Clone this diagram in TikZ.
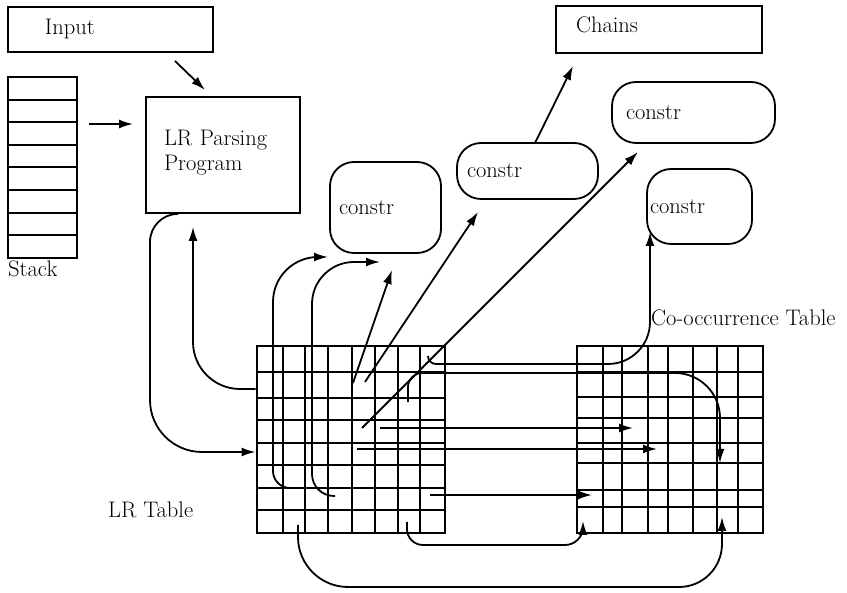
\documentclass[tikz,border=0pt]{standalone}
\usetikzlibrary{arrows.meta}

\begin{document}
\begin{tikzpicture}[x=1pt,y=-1pt,
  every node/.style={font=\fontsize{22.5}{25}\selectfont},
  box/.style={draw, line width=1.8pt, align=left},
  constr/.style={draw, line width=1.8pt, rounded corners=24pt, align=left},
  tab/.style={draw, line width=2pt, minimum width=188pt, minimum height=187pt, inner sep=0pt},
  arr/.style={line width=1.8pt, -{Latex[length=14pt,width=9pt]}},
  ln/.style={line width=2pt}]
\useasboundingbox (0,0) rectangle (847,593);

%boxes
\node[box, text width=131pt, inner xsep=37pt, minimum height=45pt] (inp) at (110.5,29.5) {Input};
\node[box, text width=166pt, inner xsep=20pt, text height=15.7pt, text depth=9pt, minimum height=47pt] (chn) at (659,29.5) {Chains};
\node[box, text width=118pt, inner xsep=18pt, minimum height=116pt] (prog) at (223,155) {LR Parsing\\Program\\[-16pt]\mbox{}};

%stack
\node[draw, ln, minimum width=69pt, minimum height=181pt, inner sep=0pt] (stack) at (42.5,167.5) {};
\foreach \i in {1,...,7} \draw[ln] (8,77+22.6*\i) -- (77,77+22.6*\i);
\node[anchor=north west, inner sep=0pt] (stk) at (8,261) {Stack};

%constr nodes
\node[constr, text width=93pt, inner xsep=9pt, minimum height=91pt] (c1) at (385.5,207.5) {constr};
\node[constr, text width=121pt, inner xsep=10pt, minimum height=56pt] (c2) at (527.5,171) {constr};
\node[constr, text width=135pt, inner xsep=14pt, minimum height=61pt] (c3) at (693.5,112.5) {constr};
\node[constr, text width=99pt, inner xsep=3pt, minimum height=75pt] (c4) at (699.5,206.5) {constr};

%tables
\node[tab] (lrt) at (350.5,440) {};
\foreach \x in {283,305,328,352,375,398,420} \draw[ln] (\x,346.5) -- (\x,533.5);
\foreach \y in {372,398,420,443,465,488,510} \draw[ln] (256.5,\y) -- (444.5,\y);
\node[tab, minimum width=186pt] (cot) at (670,439.5) {};
\foreach \x in {603,622,648,668,693,717,738} \draw[ln] (\x,346) -- (\x,533);
\foreach \y in {372,397,418,443,463,490,507} \draw[ln] (577,\y) -- (763,\y);
\node[anchor=west, inner sep=0pt] (lrl) at (108,510) {LR Table};
\node[anchor=west, inner sep=0pt] (col) at (651,318) {Co-occurrence Table};

%free ends
\coordinate (in0) at (175,61);   \coordinate (in1) at (205,90);
\coordinate (st0) at (89,124);   \coordinate (st1) at (133,124);
\coordinate (ch0) at (535,143);  \coordinate (ch1) at (573,66);
\coordinate (u1) at (290,488);   \coordinate (u1t) at (328,257);
\coordinate (u2) at (335,496);   \coordinate (u2t) at (380,262);
\coordinate (d0) at (353,383);   \coordinate (d1) at (392,270);
\coordinate (e0) at (365,382);   \coordinate (e1) at (478,212);
\coordinate (f0) at (362,428);   \coordinate (f1) at (638,152);
\coordinate (g0) at (428,356);   \coordinate (g1) at (650,232);
\coordinate (h0) at (408,402);   \coordinate (h1) at (720,463);
\coordinate (r1) at (380,428);   \coordinate (r1t) at (633,428);
\coordinate (r2) at (357,449);   \coordinate (r2t) at (657,449);
\coordinate (r3) at (430,495);   \coordinate (r3t) at (592,495);
\coordinate (b1) at (407,522);   \coordinate (b1t) at (583,521);
\coordinate (b2) at (298,525);   \coordinate (b2t) at (722,517);

%connectors
\draw[arr] (in0) -- (in1);
\draw[arr] (st0) -- (st1);
\draw[arr] (ch0) -- (ch1);
\draw[arr] ([xshift=-45pt]prog.south) [rounded corners=28pt] -| (150,300) [rounded corners=52pt] |- (lrt.west |- 0,452);
\draw[arr, shorten >=13pt, rounded corners=47pt] (lrt.west |- 0,389) -| ([xshift=-30pt]prog.south);
\draw[arr] (u1) [rounded corners=17pt] -| (273,380) [rounded corners=45pt] |- (u1t);
\draw[arr] (u2) [rounded corners=22pt] -| (312,400) [rounded corners=42pt] |- (u2t);
\draw[arr] (d0) -- (d1);
\draw[arr] (e0) -- (e1);
\draw[arr] (f0) -- (f1);
\draw[arr] (g0) [rounded corners=8pt] |- (600,364) [rounded corners=42pt] -| (g1);
\draw[arr] (h0) [rounded corners=14pt] |- (600,373) [rounded corners=45pt] -| (h1);
\draw[arr] (r1) -- (r1t);
\draw[arr] (r2) -- (r2t);
\draw[arr] (r3) -- (r3t);
\draw[arr] (b1) [rounded corners=16pt] |- (500,545) [rounded corners=18pt] -| (b1t);
\draw[arr] (b2) [rounded corners=50pt] |- (500,587) [rounded corners=43pt] -| (b2t);
\end{tikzpicture}
\end{document}
